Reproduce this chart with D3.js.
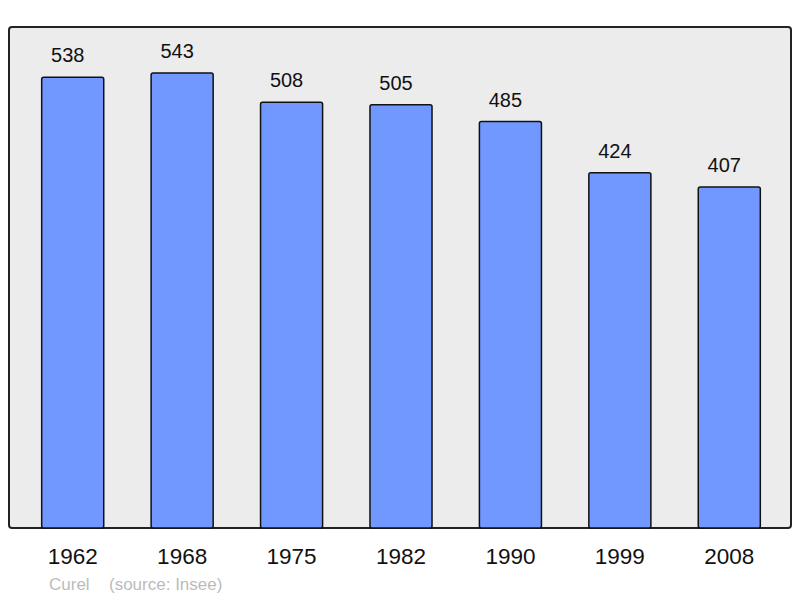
<!DOCTYPE html>
<html><head><meta charset="utf-8">
<script src="https://d3js.org/d3.v7.min.js"></script>
<style>body{margin:0;background:#fff}svg{display:block}text{font-family:"Liberation Sans",Arial,sans-serif}</style>
</head><body>
<script>
const years = ["1962","1968","1975","1982","1990","1999","2008"];
const population = [538,543,508,505,485,424,407];
const commune = "Curel";
const source = "(source: Insee)";

const W=800,H=598;
const svg=d3.select("body").append("svg").attr("width",W).attr("height",H);
svg.append("rect").attr("width",W).attr("height",H).attr("fill","#fff");
svg.append("rect").attr("x",9).attr("y",27).attr("width",782).attr("height",501)
  .attr("rx",3).attr("fill","#ececec").attr("stroke","#222").attr("stroke-width",2);

const x=d3.scaleBand().domain(years).range([18,784]).paddingInner(0.433).paddingOuter(0.2165);
const y=d3.scaleLinear().domain([0,600]).range([528,528-0.838*600]);

svg.selectAll("rect.bar").data(population).enter().append("rect").attr("class","bar")
  .attr("x",(d,i)=>x(years[i])).attr("y",d=>y(d)).attr("width",x.bandwidth())
  .attr("height",d=>y(0)-y(d)).attr("rx",2).attr("fill","#7098ff").attr("stroke","#111").attr("stroke-width",1.5);

svg.selectAll("text.val").data(population).enter().append("text").attr("class","val")
  .attr("x",(d,i)=>x(years[i])+x.bandwidth()/2-5).attr("y",d=>y(d)-15)
  .attr("text-anchor","middle").attr("font-size",20).attr("fill","#111").text(d=>d);

const xa=svg.append("g").attr("transform","translate(0,528)").call(d3.axisBottom(x).tickSize(0).tickPadding(0));
xa.select(".domain").remove();
xa.selectAll("text").attr("font-size",22.5).attr("fill","#111").attr("dy",0).attr("y",36)
  .style("font-family","'Liberation Sans',Arial,sans-serif");

svg.append("text").attr("x",49).attr("y",590).attr("font-size",17).attr("fill","#bbb").text(commune);
svg.append("text").attr("x",109).attr("y",590).attr("font-size",17).attr("fill","#bbb").text(source);
</script>
</body></html>
